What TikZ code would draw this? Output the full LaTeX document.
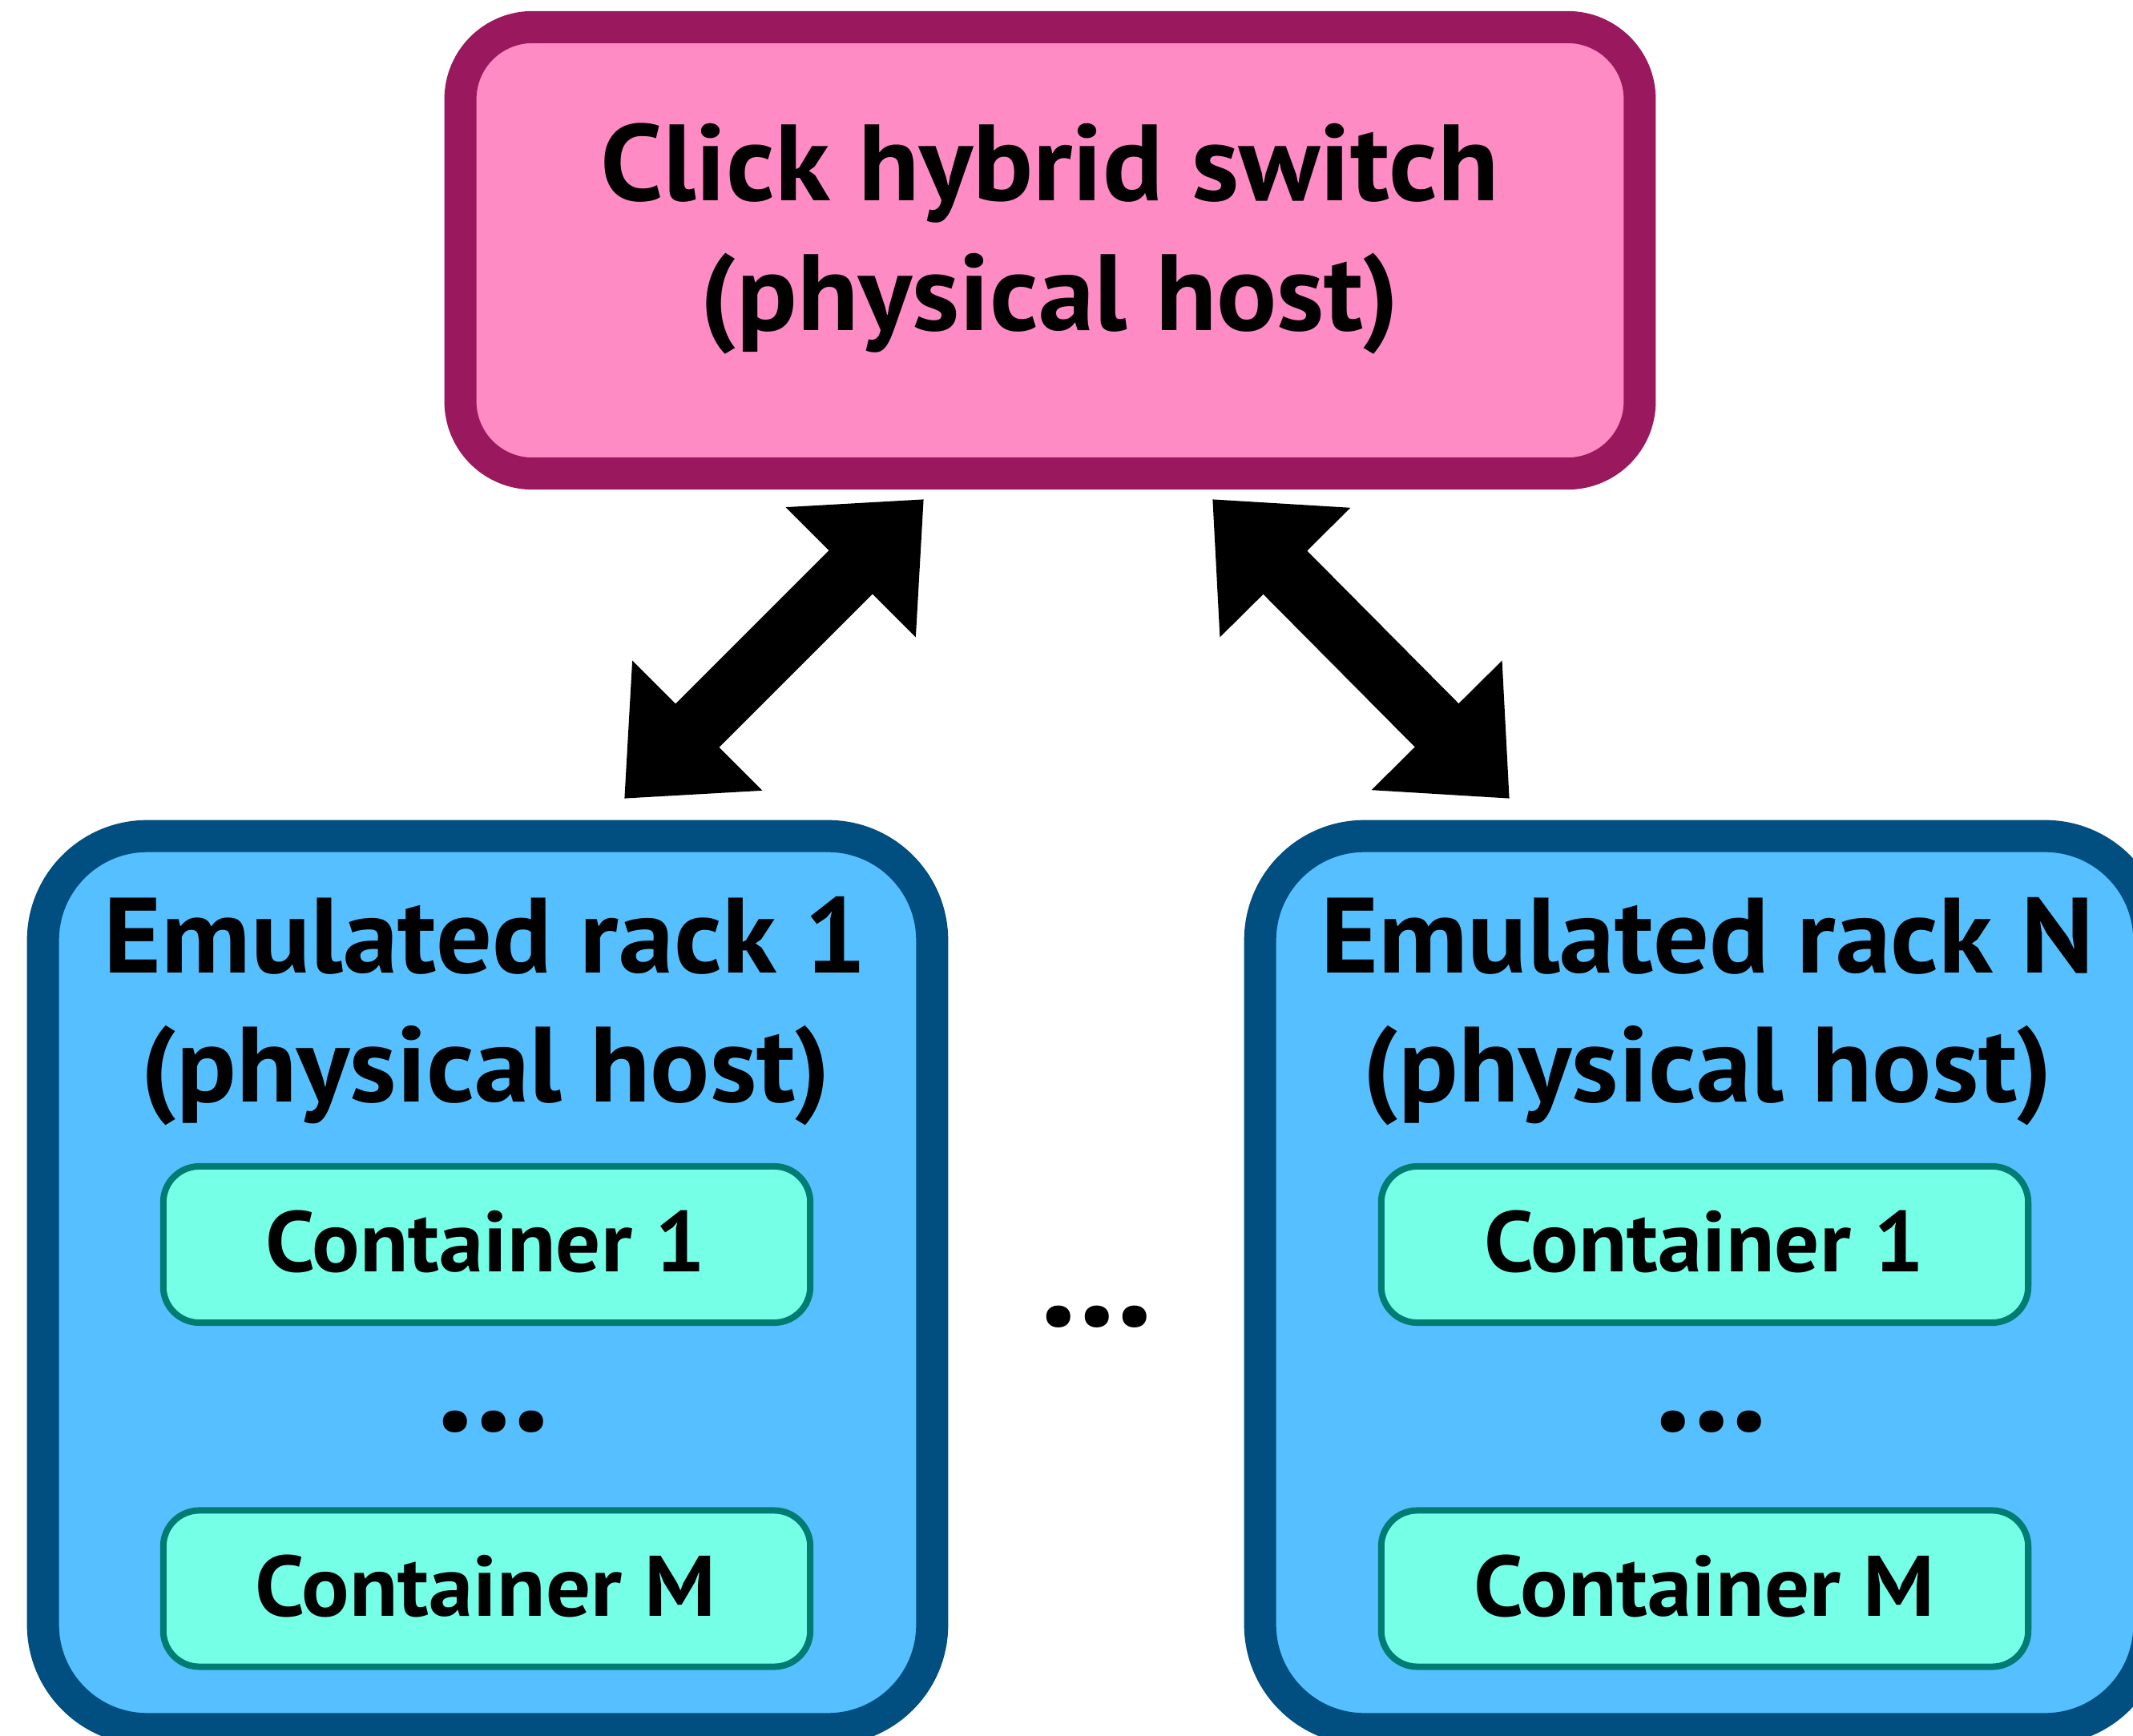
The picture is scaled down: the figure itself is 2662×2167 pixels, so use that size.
\documentclass[tikz,border=0pt]{standalone}
\usepackage{fontspec}
\setmainfont{PT Sans}[FakeStretch=1.035]
\usetikzlibrary{arrows.meta}
\definecolor{switchfill}{RGB}{255,139,196}
\definecolor{switchborder}{RGB}{154,25,94}
\definecolor{rackfill}{RGB}{86,191,255}
\definecolor{rackborder}{RGB}{0,79,128}
\definecolor{contfill}{RGB}{117,255,230}
\definecolor{contborder}{RGB}{0,124,115}
\tikzset{
  switchbox/.style={draw=switchborder, fill=switchfill, line width=0.4cm, rounded corners=0.9cm, inner sep=0, minimum width=14.71cm, minimum height=5.57cm},
  rackbox/.style={draw=rackborder, fill=rackfill, line width=0.4cm, rounded corners=1.3cm, inner sep=0, minimum width=11.09cm, minimum height=11.14cm},
  contbox/.style={draw=contborder, fill=contfill, line width=0.08cm, rounded corners=0.45cm, inner sep=0, minimum width=8.07cm, minimum height=1.95cm},
  bigtext/.style={font=\bfseries\fontsize{38.5}{46}\selectfont, anchor=base, inner sep=0},
  racktext/.style={font=\bfseries\fontsize{38}{46}\selectfont, anchor=base, inner sep=0},
  conttext/.style={font=\bfseries\fontsize{30.5}{36}\selectfont, anchor=base, inner sep=0},
  dotstext/.style={font=\bfseries\fontsize{38.5}{46}\selectfont, anchor=base, inner sep=0},
  bigarrow/.style={line width=0.77cm, {Triangle[length=1.29cm,width=2.21cm]}-{Triangle[length=1.29cm,width=2.21cm]}}
}
\begin{document}
\begin{tikzpicture}[x=0.01cm, y=-0.01cm]
\useasboundingbox (0,0) rectangle (2662,2167);
\clip (0,0) rectangle (2662,2167);
\fill[white] (0,0) rectangle (2662,2167);

\node[switchbox] (switch) at (1310.5,312.5) {};
\node[bigtext] (swl1) at (1310,251) {Click hybrid switch};
\node[bigtext] (swl2) at (1310,413) {(physical host)};

\node[rackbox] (rack1) at (608.5,1601) {};
\node[racktext] (r1l1) at (606,1214) {Emulated rack 1};
\node[racktext] (r1l2) at (606,1375) {(physical host)};
\node[contbox] (r1c1) at (607.5,1553.5) {};
\node[conttext] (r1c1t) at (606,1587) {Container 1};
\node[dotstext] (r1dots) at (616,1786) {\scalebox{1.32}{...}};
\node[contbox] (r1cm) at (607.5,1983) {};
\node[conttext] (r1cmt) at (606,2017) {Container M};

\node[rackbox] (rackN) at (2127.5,1601) {};
\node[racktext] (rNl1) at (2131,1214) {Emulated rack N};
\node[racktext] (rNl2) at (2131,1375) {(physical host)};
\node[contbox] (rNc1) at (2127.5,1553.5) {};
\node[conttext] (rNc1t) at (2127,1587) {Container 1};
\node[dotstext] (rNdots) at (2136,1786) {\scalebox{1.32}{...}};
\node[contbox] (rNcm) at (2127.5,1983) {};
\node[conttext] (rNcmt) at (2127,2017) {Container M};

\node[dotstext] (middots) at (1369,1655) {\scalebox{1.32}{...}};

\coordinate (a1top) at (1153,623);
\coordinate (a1bot) at (779,997);
\coordinate (a2top) at (1513,623);
\coordinate (a2bot) at (1884,997);
\draw[bigarrow] (a1bot) -- (a1top);
\draw[bigarrow] (a2top) -- (a2bot);
\end{tikzpicture}
\end{document}
